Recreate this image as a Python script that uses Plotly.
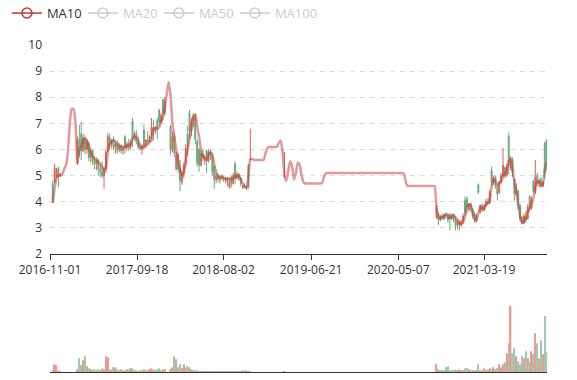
import pandas as pd
import plotly.graph_objects as go

# ---------------- data (weekly) ----------------
week_dates = pd.date_range("2016-11-04", periods=262, freq="7D")

ma10 = [
    None, 3.95, 4.5, 4.9, 5.02, 5.0, 5.05, 5.25, 5.4, 5.9,        # 0-9
    7.0, 7.55, 7.55, 7.0, 5.5, 6.0, 6.1, 6.35, 6.4, 6.35,         # 10-19
    6.0, 5.9, 5.75, 5.65, 5.6, 5.5, 5.45, 5.3, 5.2, 5.3,          # 20-29
    5.9, 6.2, 6.3, 6.35, 6.3, 6.2, 6.15, 6.1, 6.1, 6.1,           # 30-39
    6.15, 6.15, 6.2, 6.4, 6.5, 6.45, 6.35, 6.1, 6.05, 6.1,        # 40-49
    6.15, 6.2, 6.3, 6.35, 6.8, 6.82, 6.8, 6.85, 7.05, 7.25,       # 50-59
    7.6, 8.1, 8.58, 8.1, 7.0, 6.5, 6.0, 5.6, 5.25, 5.02,          # 60-69
    5.1, 5.6, 6.0, 6.4, 6.8, 7.3, 7.35, 6.9, 6.5, 6.0,            # 70-79
    5.75, 5.65, 5.6, 5.8, 5.9, 5.8, 5.45, 5.15, 5.0, 4.95,        # 80-89
    4.95, 4.9, 4.9, 4.85, 4.9, 4.85, 4.9, 4.95, 5.0, 5.0,         # 90-99
    4.85, 4.7, 4.6, 4.55, 5.0, 5.6, 5.65, 5.6, 5.6, 5.6,          # 100-109
    5.6, 5.6, 5.6, 5.85, 6.05, 6.1, 6.1, 6.1, 6.1, 6.1,           # 110-119
    6.25, 6.35, 5.9, 5.0, 4.8, 5.2, 5.55, 5.35, 4.85, 5.1,        # 120-129
    5.5, 5.4, 5.0, 4.75, 4.7, 4.7, 4.7, 4.7, 4.7, 4.7,            # 130-139
    4.7, 4.7, 4.7, 4.75, 5.0, 5.1, 5.1, 5.1, 5.1, 5.1,            # 140-149
    5.1, 5.1, 5.1, 5.1, 5.1, 5.1, 5.1, 5.1, 5.1, 5.1,             # 150-159
    5.1, 5.1, 5.1, 5.1, 5.1, 5.1, 5.1, 5.1, 5.1, 5.1,             # 160-169
    5.1, 5.1, 5.1, 5.1, 5.1, 5.1, 5.1, 5.1, 5.1, 5.1,             # 170-179
    5.1, 5.1, 5.1, 5.1, 5.1, 5.1, 5.05, 4.7, 4.6, 4.6,            # 180-189
    4.6, 4.6, 4.6, 4.6, 4.6, 4.6, 4.6, 4.6, 4.6, 4.6,             # 190-199
    4.6, 4.6, 4.6, 3.8, 3.4, 3.38, 3.42, 3.45, 3.5, 3.5,          # 200-209
    3.38, 3.42, 3.48, 3.4, 3.3, 3.18, 3.15, 3.22, 3.45, 3.78,     # 210-219
    3.9, 3.9, 3.6, 3.4, 3.28, 3.55, 3.8, 3.75, 3.68, 3.9,         # 220-229
    3.95, 4.1, 4.6, 4.85, 4.8, 4.65, 4.7, 4.78, 4.95, 5.08,       # 230-239
    5.2, 5.55, 5.65, 5.25, 4.75, 4.35, 3.9, 3.45, 3.18, 3.22,     # 240-249
    3.4, 3.6, 3.75, 3.95, 4.15, 4.55, 4.8, 4.75, 4.62, 4.65,      # 250-259
    5.3, 5.5,                                                     # 260-261
]

# weeks with trading (index into week_dates)
trade_weeks = [*range(1, 6), *range(14, 61), *range(63, 106), 123, *range(203, 262)]

open_ = [
    4.70, 4.75, 4.95, 5.30, 5.00,
    5.45, 6.40, 6.60, 5.95, 6.45, 6.00, 6.25, 5.70, 5.95, 5.55,
    5.45, 5.60, 5.25, 5.15, 5.00, 5.25, 5.95, 6.45, 6.20, 6.40,
    6.10, 6.25, 6.00, 6.15, 5.95, 6.50, 6.05, 6.25, 6.10, 7.10,
    6.45, 6.60, 6.30, 6.10, 6.05, 6.75, 6.15, 6.35, 6.30, 6.55,
    6.85, 6.70, 7.10, 7.50, 7.05, 7.90, 7.40,
    6.90, 6.00, 6.50, 5.25, 5.80, 5.30, 4.75, 5.10, 5.45, 6.60,
    7.40, 6.70, 7.10, 7.25, 6.30, 6.00, 5.40, 5.85, 5.65, 5.95,
    5.55, 5.90, 5.75, 5.35, 4.85, 5.00, 4.85, 4.95, 4.90, 4.85,
    4.90, 4.55, 4.95, 4.70, 5.45, 4.90, 5.05, 4.90, 4.55, 4.60,
    4.50, 5.40, 5.60,
    4.95,
    3.40, 3.55, 3.30, 3.45, 3.35, 3.50, 3.45, 3.50, 3.35, 3.50,
    3.30, 3.10, 3.25, 3.10, 3.25, 4.05, 4.10, 3.70, 3.90, 3.70,
    3.30, 3.50, 4.65, 3.60, 3.85, 3.70, 3.85, 4.00, 3.95, 5.20,
    4.70, 4.95, 4.60, 4.35, 4.75, 5.00, 5.30, 5.00, 6.50, 5.30,
    5.60, 4.85, 4.30, 4.40, 3.85, 3.40, 3.20, 3.45, 3.35, 4.20,
    3.75, 4.80, 4.35, 5.00, 4.70, 4.85, 4.60, 6.25, 6.35,
]
high = [
    4.80, 5.45, 5.30, 5.35, 5.10,
    6.50, 6.95, 7.05, 6.60, 6.55, 6.40, 6.30, 6.10, 6.00, 5.75,
    5.70, 5.65, 5.45, 5.55, 5.35, 6.00, 6.65, 6.60, 6.40, 6.50,
    6.30, 6.35, 6.25, 6.20, 6.15, 6.55, 6.30, 6.40, 6.40, 7.20,
    6.70, 6.75, 6.50, 6.25, 6.20, 6.95, 6.40, 6.70, 6.55, 7.20,
    7.15, 6.90, 7.20, 7.55, 7.40, 7.95, 8.00,
    6.95, 6.70, 6.60, 5.90, 5.85, 5.60, 5.20, 5.50, 6.20, 6.90,
    7.50, 7.20, 7.35, 7.35, 6.40, 6.05, 5.95, 6.00, 5.80, 6.00,
    6.00, 6.00, 5.85, 5.40, 5.10, 5.05, 5.00, 5.05, 5.00, 4.95,
    4.95, 4.90, 5.00, 5.10, 5.55, 5.15, 5.10, 4.95, 4.65, 4.70,
    4.60, 5.45, 6.80,
    5.90,
    3.85, 3.60, 3.50, 3.55, 3.55, 3.60, 3.55, 3.55, 3.55, 3.55,
    3.45, 3.35, 3.30, 3.30, 3.55, 4.20, 4.20, 3.95, 3.95, 3.75,
    3.60, 3.55, 4.70, 3.90, 3.95, 3.90, 4.10, 4.15, 4.45, 5.35,
    5.00, 5.00, 4.65, 4.80, 5.10, 6.05, 5.35, 5.45, 6.65, 5.75,
    5.70, 4.90, 4.70, 4.45, 3.90, 3.45, 3.55, 3.65, 3.90, 4.25,
    4.20, 4.85, 5.60, 5.10, 4.90, 4.95, 4.80, 6.30, 6.40,
]
low = [
    3.95, 4.70, 4.90, 4.55, 4.95,
    5.40, 5.70, 5.60, 5.90, 5.80, 5.85, 5.55, 5.50, 5.40, 5.25,
    5.20, 5.00, 4.95, 4.90, 4.50, 5.10, 5.90, 6.00, 6.05, 6.00,
    5.85, 5.85, 5.90, 5.85, 5.80, 5.85, 5.95, 5.95, 6.00, 6.10,
    6.35, 6.20, 6.00, 5.95, 5.80, 6.00, 6.05, 6.20, 6.25, 6.40,
    6.35, 6.60, 6.40, 6.90, 7.00, 7.10, 7.30,
    5.80, 5.90, 5.70, 5.20, 5.10, 4.40, 4.65, 4.90, 5.35, 5.75,
    6.40, 6.50, 6.85, 6.20, 5.35, 5.15, 5.35, 5.55, 5.40, 5.10,
    5.50, 5.60, 5.00, 4.50, 4.70, 4.75, 4.70, 4.80, 4.75, 4.70,
    4.60, 4.50, 4.55, 4.65, 4.70, 4.85, 4.80, 4.60, 4.50, 4.50,
    4.45, 4.50, 5.60,
    4.95,
    3.35, 3.10, 3.25, 3.30, 3.30, 3.35, 3.20, 2.90, 3.30, 3.20,
    2.90, 2.95, 2.90, 3.05, 3.15, 3.45, 3.55, 3.65, 3.60, 3.35,
    3.20, 3.20, 4.30, 3.55, 3.60, 3.65, 3.80, 3.85, 3.90, 4.60,
    4.65, 4.50, 4.05, 4.30, 4.70, 4.95, 4.90, 4.95, 5.05, 5.20,
    4.95, 4.05, 4.25, 3.70, 3.25, 3.15, 3.15, 3.20, 3.30, 3.60,
    3.70, 4.35, 4.30, 4.60, 4.55, 4.55, 4.55, 4.90, 5.20,
]
close = [
    4.05, 5.30, 5.20, 4.95, 5.05,
    6.35, 5.85, 5.95, 6.45, 6.00, 6.30, 5.70, 5.95, 5.55, 5.45,
    5.60, 5.25, 5.15, 5.00, 5.25, 5.90, 6.50, 6.20, 6.35, 6.10,
    6.20, 5.95, 6.15, 5.95, 6.05, 6.05, 6.20, 6.05, 6.30, 6.40,
    6.60, 6.30, 6.10, 6.05, 6.15, 6.15, 6.35, 6.30, 6.50, 6.85,
    6.70, 6.80, 6.75, 7.05, 7.30, 7.40, 7.85,
    6.00, 6.50, 5.85, 5.80, 5.25, 4.80, 5.10, 5.40, 6.05, 6.10,
    6.70, 7.10, 7.25, 6.40, 5.50, 5.40, 5.85, 5.65, 5.70, 5.55,
    5.90, 5.75, 5.15, 4.85, 5.00, 4.85, 4.95, 4.90, 4.85, 4.90,
    4.75, 4.75, 4.70, 5.00, 4.90, 5.05, 4.90, 4.70, 4.60, 4.55,
    4.55, 4.55, 5.65,
    5.00,
    3.75, 3.30, 3.45, 3.35, 3.50, 3.45, 3.30, 3.35, 3.50, 3.30,
    3.10, 3.25, 3.10, 3.25, 3.45, 3.60, 3.80, 3.90, 3.70, 3.45,
    3.50, 3.25, 4.35, 3.85, 3.70, 3.85, 4.00, 3.95, 4.35, 4.75,
    4.95, 4.60, 4.30, 4.75, 5.00, 5.40, 5.00, 5.35, 5.40, 5.65,
    5.10, 4.30, 4.55, 3.85, 3.35, 3.20, 3.45, 3.30, 3.80, 3.75,
    4.10, 4.40, 4.95, 4.70, 4.80, 4.60, 4.75, 5.10, 5.45,
]
volume = [
    2, 8, 7, 2, 1,
    3, 14, 7, 12, 16, 6, 4, 3, 2, 3,
    2, 3, 2, 4, 3, 16, 15, 3, 2, 5,
    5, 3, 2, 3, 2, 2, 3, 2, 4, 4,
    2, 2, 1, 2, 2, 3, 2, 2, 3, 4,
    3, 2, 3, 4, 2, 3, 3,
    3, 5, 16, 13, 5, 8, 4, 8, 4, 6,
    5, 3, 2, 2, 2, 1, 1, 1, 1, 1,
    1, 1, 1, 1, 1, 1, 1, 1, 1, 1,
    0.5, 0.5, 0.5, 0.5, 0.5, 0.5, 0.5, 1, 2, 1,
    2, 1, 1,
    1,
    8, 3, 2, 2, 2, 5, 6, 2, 2, 2,
    3, 2, 3, 2, 2, 4, 4, 3, 2, 2,
    2, 2, 8, 2, 2, 4, 2, 3, 4, 3,
    5, 3, 4, 8, 5, 8, 10, 19, 29, 66,
    19, 24, 16, 11, 8, 16, 14, 21, 14, 10,
    21, 18, 39, 29, 14, 32, 18, 56, 20,
]

tick_labels = ["2016-11-01", "2017-09-18", "2018-08-02", "2019-06-21", "2020-05-07", "2021-03-19"]
price_ticks = [2, 3, 4, 5, 6, 7, 8, 9, 10]

# ---------------- figure ----------------
UP = "#e0483a"
DOWN = "#47a06b"
FONT = "Open Sans"

candle_dates = week_dates[trade_weeks]
bar_colors = [UP if c >= o else DOWN for o, c in zip(open_, close)]

fig = go.Figure()

fig.add_trace(go.Candlestick(
    x=candle_dates, open=open_, high=high, low=low, close=close,
    increasing=dict(line=dict(color=UP, width=1), fillcolor=UP),
    decreasing=dict(line=dict(color=DOWN, width=1), fillcolor=DOWN),
    whiskerwidth=0, opacity=0.85, showlegend=False, hoverinfo="skip",
    xaxis="x", yaxis="y",
))

fig.add_trace(go.Scatter(
    x=week_dates, y=ma10, mode="lines",
    line=dict(color="rgba(194,53,49,0.5)", width=2.5, shape="spline", smoothing=0.5),
    showlegend=False, hoverinfo="skip", xaxis="x", yaxis="y",
))

legend_items = [
    ("#c23531", "MA10"),
    ("#cccccc", '<span style="color:#cccccc">MA20</span>'),
    ("#cccccc", '<span style="color:#cccccc">MA50</span>'),
    ("#cccccc", '<span style="color:#cccccc">MA100</span>'),
]
for col, label in legend_items:
    fig.add_trace(go.Scatter(
        x=[None], y=[None], mode="lines+markers", name=label,
        line=dict(color=col, width=1.5),
        marker=dict(symbol="circle-open", size=10, color=col, line=dict(width=1.5, color=col)),
        xaxis="x", yaxis="y",
    ))
# blank spacer entry so the last legend label is not clipped
fig.add_trace(go.Scatter(x=[None], y=[None], mode="none", name=" ", xaxis="x", yaxis="y"))

fig.add_trace(go.Bar(
    x=candle_dates, y=volume,
    marker=dict(color=bar_colors, line=dict(width=0)),
    opacity=0.55, showlegend=False, hoverinfo="skip",
    xaxis="x2", yaxis="y2",
))

xdom = [50 / 577, 547 / 577]
xrange_ = ["2016-11-01", "2021-11-06"]

fig.update_layout(
    width=577, height=380,
    margin=dict(l=0, r=0, t=0, b=0, autoexpand=False),
    paper_bgcolor="white", plot_bgcolor="white",
    font=dict(family=FONT, size=12, color="#333"),
    bargap=0.25,
    showlegend=True,
    legend=dict(
        orientation="h", x=0.012, y=1.005, xanchor="left", yanchor="top",
        font=dict(family=FONT, size=13, color="#333"),
        bgcolor="rgba(0,0,0,0)", itemwidth=30, tracegroupgap=0,
        entrywidth=31, entrywidthmode="pixels",
    ),
    xaxis=dict(
        domain=xdom, anchor="y", type="date", range=xrange_, automargin=False,
        tickvals=tick_labels, ticktext=tick_labels,
        ticks="outside", ticklen=5, tickcolor="#333", tickwidth=1,
        showline=True, linecolor="#333", linewidth=1,
        showgrid=False, zeroline=False,
        rangeslider=dict(visible=False),
        tickfont=dict(family=FONT, size=12, color="#333"),
    ),
    yaxis=dict(
        domain=[1 - 254 / 380, 1 - 45 / 380], anchor="x", automargin=False,
        range=[2, 10], tickvals=price_ticks,
        showgrid=True, gridcolor="#dddddd", griddash="5px,5px", gridwidth=1,
        zeroline=False, showline=False, ticks="",
        ticklabelstandoff=7,
        tickfont=dict(family=FONT, size=12, color="#333"),
    ),
    xaxis2=dict(
        domain=xdom, anchor="y2", type="date", range=xrange_, automargin=False,
        showticklabels=False, ticks="",
        showline=True, linecolor="#333", linewidth=1,
        showgrid=False, zeroline=False,
        rangeslider=dict(visible=False),
    ),
    yaxis2=dict(
        domain=[1 - 372.3 / 380, 1 - 300 / 380], anchor="x2", automargin=False,
        range=[0, 72], showticklabels=False, showgrid=False,
        zeroline=False, showline=False, ticks="",
    ),
    hovermode=False,
)

fig.write_html("out.html")
